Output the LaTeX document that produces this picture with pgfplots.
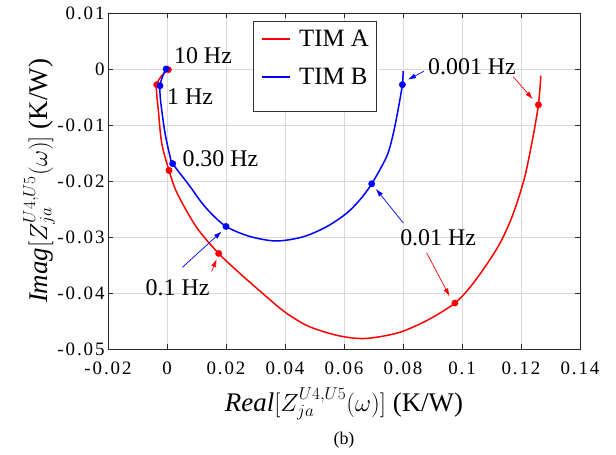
\documentclass[border=0pt]{standalone}
\usepackage{fontspec}
\setmainfont{Liberation Serif}
\newfontfamily\tickfont[LetterSpace=10]{Liberation Serif}
\usepackage{pgfplots}
\pgfplotsset{compat=1.18}
\usetikzlibrary{arrows.meta}
\definecolor{myred}{RGB}{255,0,0}
\definecolor{myblue}{RGB}{0,0,255}
\begin{document}
\begin{tikzpicture}
\begin{axis}[
  scale only axis, width=472bp, height=336bp,
  xmin=-0.02, xmax=0.14, ymin=-0.05, ymax=0.01,
  xtick={-0.02,0,0.02,0.04,0.06,0.08,0.1,0.12,0.14},
  ytick={-0.05,-0.04,-0.03,-0.02,-0.01,0,0.01},
  scaled ticks=false,
  /pgf/number format/.cd, fixed, precision=3, assume math mode=true, /pgfplots/.cd,
  tick label style={font=\tickfont\fontsize{19}{19}\selectfont},
  xticklabel style={yshift=-9bp},
  xtick pos=both, ytick pos=both, tick align=inside,
  major tick length=5bp,
  every tick/.style={black!85, line width=0.6bp},
  axis line style={black!85, line width=0.8bp},
  grid=major, major grid style={black!15, line width=0.5bp},
  xlabel={$\mathit{Real}[Z^{U4,U5}_{ja}(\omega)]$ (K/W)},
  ylabel={$\mathit{Imag}[Z^{U4,U5}_{ja}(\omega)]$ (K/W)},
  label style={font=\fontsize{27}{27}\selectfont},
  xlabel style={at={(axis description cs:0.5,-0.1866)}, anchor=base},
  ylabel style={at={(axis description cs:-0.1292,0.5)}, anchor=base, rotate=0},
  legend style={at={(axis description cs:0.308,0.974)}, anchor=north west,
    draw=none, fill=white, font=\fontsize{25}{25}\selectfont,
    inner xsep=8bp, inner ysep=6bp, row sep=16bp,
    nodes={inner sep=2bp},
    /tikz/every odd column/.append style={column sep=6bp}},
  legend cell align=left,
  legend image code/.code={\draw[#1, line width=1.5bp] (0bp,0bp) -- (28bp,0bp);},
]
\addplot[myred, line width=1.5bp, smooth] coordinates {
(0.00044,-0.00013) (-0.0018,-0.0012) (-0.00349,-0.0028) (-0.0034,-0.0050)
(-0.00295,-0.00727) (-0.0018,-0.01322) (0.00068,-0.01811) (0.0034,-0.02215)
(0.0100,-0.02826) (0.01752,-0.03294) (0.0245,-0.0364) (0.03354,-0.04059)
(0.0403,-0.04353) (0.0482,-0.0460) (0.05835,-0.04765) (0.06738,-0.04812)
(0.07866,-0.04706) (0.08881,-0.04471) (0.0976,-0.0418) (0.1030,-0.0388)
(0.1085,-0.0348) (0.1130,-0.0310) (0.1165,-0.0270) (0.1192,-0.0230)
(0.1214,-0.0190) (0.1232,-0.0145) (0.1248,-0.0100) (0.1259,-0.0064)
(0.1265,-0.0030) (0.1267,-0.0012)
};
\addlegendentry{TIM A}
\addplot[myblue, line width=1.5bp, smooth] coordinates {
(-0.0003,0.0000) (-0.0015,-0.0013) (-0.00237,-0.0030) (-0.0023,-0.0050)
(-0.0018,-0.00727) (-0.00068,-0.01143) (0.00102,-0.0156) (0.00193,-0.0169)
(0.0078,-0.02097) (0.0115,-0.0237) (0.0150,-0.0258) (0.0200,-0.02812)
(0.0279,-0.02988) (0.03692,-0.03071) (0.04594,-0.0300) (0.05384,-0.02824)
(0.06061,-0.02588) (0.06512,-0.02353) (0.0694,-0.0205) (0.0745,-0.0156)
(0.0765,-0.0120) (0.0779,-0.0085) (0.0798,-0.0028) (0.0800,-0.0004)
};
\addlegendentry{TIM B}
\addplot[myred, only marks, mark=*, mark size=3.2bp, forget plot] coordinates {
(0.00044,-0.00013) (-0.00349,-0.0028) (0.00068,-0.01811) (0.01752,-0.03294)
(0.0976,-0.0418) (0.1259,-0.0064)
};
\addplot[myblue, only marks, mark=*, mark size=3.2bp, forget plot] coordinates {
(-0.0003,0.0000) (-0.00237,-0.0030) (0.00193,-0.0169) (0.0200,-0.02812)
(0.0694,-0.0205) (0.0798,-0.0028)
};
% white ground of the legend frame
\fill[white] (rel axis cs:0.3078,0.974) rectangle (rel axis cs:0.5678,0.7083);
% annotations
\begin{scope}[font=\fontsize{24}{24}\selectfont]
\node at (axis cs:0.0122,0.0024) {10 Hz};
\node at (axis cs:0.0078,-0.0049) {1 Hz};
\node at (axis cs:0.0181,-0.0160) {0.30 Hz};
\node at (axis cs:0.0036,-0.0391) {0.1 Hz};
\node at (axis cs:0.0919,-0.0301) {0.01 Hz};
\node at (axis cs:0.1034,0.0004) {0.001 Hz};
\end{scope}
\begin{scope}[line width=0.7bp, -{Latex[length=8bp,width=5bp]}]
\draw[myblue] (axis cs:0.0871,-0.0004) -- (axis cs:0.0817,-0.0019);
\draw[myred] (axis cs:0.1174,-0.0014) -- (axis cs:0.1240,-0.0054);
\draw[myblue] (axis cs:0.0801,-0.0275) -- (axis cs:0.0708,-0.0214);
\draw[myred] (axis cs:0.0880,-0.0328) -- (axis cs:0.0958,-0.0406);
\draw[myblue] (axis cs:0.00519,-0.03543) -- (axis cs:0.01855,-0.0290);
\draw[myred] (axis cs:0.01515,-0.03615) -- (axis cs:0.01685,-0.03393);
\end{scope}
\end{axis}
\draw[black!80, line width=0.8bp] ([shift={(145.3bp,-8.7bp)}]current axis.north west) rectangle ([shift={(268bp,-98bp)}]current axis.north west);
\node[font=\fontsize{18}{18}\selectfont] at ([yshift=-91.5bp]current axis.south) {(b)};
\pgfresetboundingbox
\path[use as bounding box] ([shift={(-108bp,-106bp)}]current axis.south west) rectangle ([shift={(36bp,13bp)}]current axis.north east);
\end{tikzpicture}
\end{document}
